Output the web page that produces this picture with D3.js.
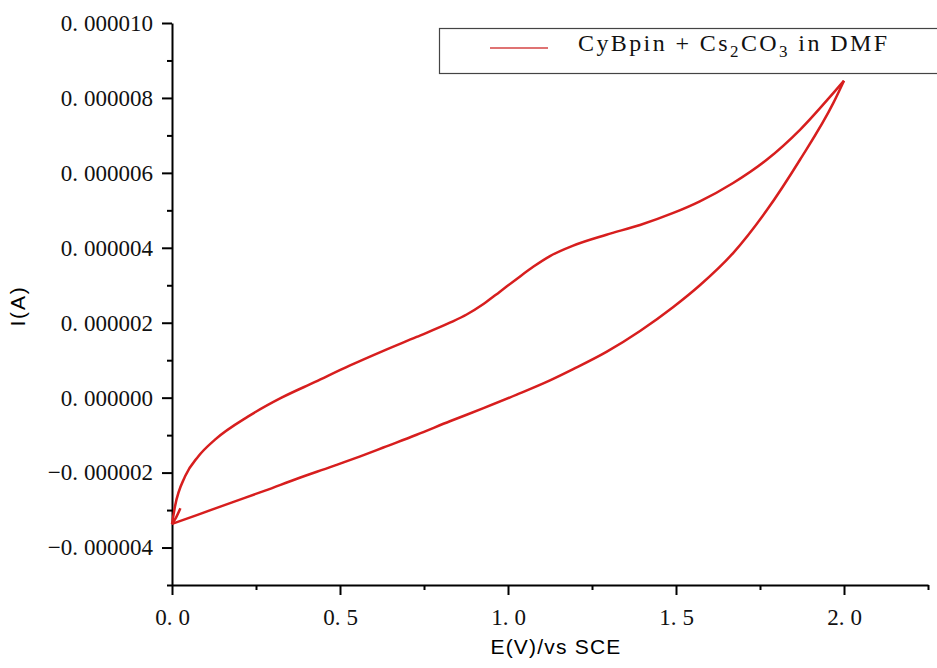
<!DOCTYPE html>
<html>
<head>
<meta charset="utf-8">
<script src="https://cdn.jsdelivr.net/npm/d3@7"></script>
<style>
  body { margin: 0; background: #fff; }
  svg { display: block; }
</style>
</head>
<body>
<div id="chart"></div>
<script>
// forward scan (upper branch), potential in V, current in A
const upperE = [0.0, 0.009, 0.039, 0.078, 0.128, 0.227, 0.326, 0.426, 0.530, 0.629, 0.728, 0.827, 0.877, 0.927, 0.976, 1.026, 1.076, 1.125, 1.194, 1.293, 1.393, 1.492, 1.571, 1.670, 1.770, 1.869, 1.968, 2.0];
const upperI = [-3.38e-6, -2.9e-6, -2.1e-6, -1.57e-6, -1.12e-6, -0.5e-6, 0.0, 0.42e-6, 0.86e-6, 1.25e-6, 1.62e-6, 2.0e-6, 2.22e-6, 2.5e-6, 2.83e-6, 3.17e-6, 3.5e-6, 3.78e-6, 4.06e-6, 4.35e-6, 4.61e-6, 4.93e-6, 5.24e-6, 5.73e-6, 6.35e-6, 7.15e-6, 8.13e-6, 8.46e-6];

// reverse scan (lower branch)
const lowerE = [0.0, 0.078, 0.177, 0.277, 0.376, 0.475, 0.574, 0.629, 0.728, 0.827, 0.927, 1.026, 1.125, 1.194, 1.293, 1.393, 1.492, 1.571, 1.670, 1.770, 1.869, 1.968, 2.0];
const lowerI = [-3.37e-6, -3.12e-6, -2.80e-6, -2.48e-6, -2.15e-6, -1.84e-6, -1.52e-6, -1.33e-6, -0.99e-6, -0.63e-6, -0.28e-6, 0.08e-6, 0.46e-6, 0.76e-6, 1.22e-6, 1.78e-6, 2.42e-6, 3.0e-6, 3.86e-6, 5.0e-6, 6.35e-6, 7.86e-6, 8.46e-6];

// small hook at the start of the scan
const hookE = [0.0, 0.012, 0.025];
const hookI = [-3.37e-6, -3.2e-6, -2.95e-6];

const xMajor = [0, 0.5, 1.0, 1.5, 2.0];
const xMinor = [0.25, 0.75, 1.25, 1.75, 2.25];
const yMajor = [-4e-6, -2e-6, 0, 2e-6, 4e-6, 6e-6, 8e-6, 1e-5];
const yMinor = [-5e-6, -3e-6, -1e-6, 1e-6, 3e-6, 5e-6, 7e-6, 9e-6];

const seriesName = "CyBpin + Cs";
const W = 937, H = 668;
const margin = { top: 23, right: 9, bottom: 83, left: 172 };
const lineColor = "#d71e1e";

const svg = d3.select("#chart").append("svg")
  .attr("width", W)
  .attr("height", H);

const x = d3.scaleLinear().domain([0, 2.25]).range([margin.left, W - margin.right]);
const y = d3.scaleLinear().domain([-5e-6, 1e-5]).range([H - margin.bottom, margin.top]);

const serif = "'Liberation Serif', 'DejaVu Serif', serif";
const sans = "'Liberation Sans', Arial, sans-serif";

// split "0.000010" so the decimals sit a bit further from the dot
function spaceLabels(sel) {
  sel.selectAll(".tick text").each(function() {
    const t = d3.select(this);
    const s = t.text();
    const i = s.indexOf(".");
    if (i < 0) return;
    t.text(null);
    t.append("tspan").text(s.slice(0, i + 1));
    t.append("tspan").attr("dx", 6).text(s.slice(i + 1));
  });
}

// y axis
const yAxis = svg.append("g")
  .attr("transform", `translate(${margin.left},0)`)
  .call(d3.axisLeft(y).tickValues(yMajor).tickSize(10).tickSizeOuter(0).tickPadding(9)
    .tickFormat(d3.format(".6f")));
yAxis.append("g")
  .call(d3.axisLeft(y).tickValues(yMinor).tickSize(5).tickFormat(""))
  .select(".domain").remove();
yAxis.attr("font-family", serif).attr("font-size", 23);
yAxis.selectAll("path, line").attr("stroke", "#000").attr("stroke-width", 2);
yAxis.selectAll(".tick text").attr("fill", "#111");
spaceLabels(yAxis);

// x axis
const xAxis = svg.append("g")
  .attr("transform", `translate(0,${H - margin.bottom})`)
  .call(d3.axisBottom(x).tickValues(xMajor).tickSize(10).tickSizeOuter(0).tickPadding(14)
    .tickFormat(d3.format(".1f")));
xAxis.append("g")
  .call(d3.axisBottom(x).tickValues(xMinor).tickSize(5).tickFormat(""))
  .select(".domain").remove();
xAxis.attr("font-family", serif).attr("font-size", 23);
xAxis.selectAll("path, line").attr("stroke", "#000").attr("stroke-width", 2);
xAxis.selectAll(".tick text").attr("fill", "#111");
spaceLabels(xAxis);

// axis titles
svg.append("text")
  .attr("x", (margin.left + W - margin.right) / 2 + 6)
  .attr("y", 654)
  .attr("text-anchor", "middle")
  .attr("font-family", sans)
  .attr("font-size", 21)
  .attr("letter-spacing", 1.2)
  .text("E(V)/vs SCE");

svg.append("text")
  .attr("transform", "translate(25,306) rotate(-90)")
  .attr("text-anchor", "middle")
  .attr("font-family", sans)
  .attr("font-size", 21)
  .attr("letter-spacing", 1.8)
  .text("I(A)");

// curve
const line = d3.line()
  .x(d => x(d[0]))
  .y(d => y(d[1]))
  .curve(d3.curveMonotoneX);

const branches = [
  d3.zip(upperE, upperI),
  d3.zip(lowerE, lowerI),
  d3.zip(hookE, hookI)
];

svg.append("g")
  .selectAll("path")
  .data(branches)
  .join("path")
  .attr("d", line)
  .attr("fill", "none")
  .attr("stroke", lineColor)
  .attr("stroke-width", 2.5)
  .attr("stroke-linejoin", "round");

// legend
const legend = svg.append("g");
legend.append("rect")
  .attr("x", 439.5).attr("y", 28.5)
  .attr("width", 510).attr("height", 45)
  .attr("fill", "#fff")
  .attr("stroke", "#444")
  .attr("stroke-width", 1.2);
legend.append("line")
  .attr("x1", 490).attr("x2", 548)
  .attr("y1", 48).attr("y2", 48)
  .attr("stroke", "#d54545")
  .attr("stroke-width", 1.3);
const lt = legend.append("text")
  .attr("x", 578).attr("y", 51)
  .attr("font-family", serif)
  .attr("font-size", 24)
  .attr("letter-spacing", 2.4)
  .attr("fill", "#111");
lt.append("tspan").text(seriesName);
lt.append("tspan").attr("dy", 6).attr("font-size", 17).text("2");
lt.append("tspan").attr("dy", -6).text("CO");
lt.append("tspan").attr("dy", 6).attr("font-size", 17).text("3");
lt.append("tspan").attr("dy", -6).text(" in DMF");
</script>
</body>
</html>
